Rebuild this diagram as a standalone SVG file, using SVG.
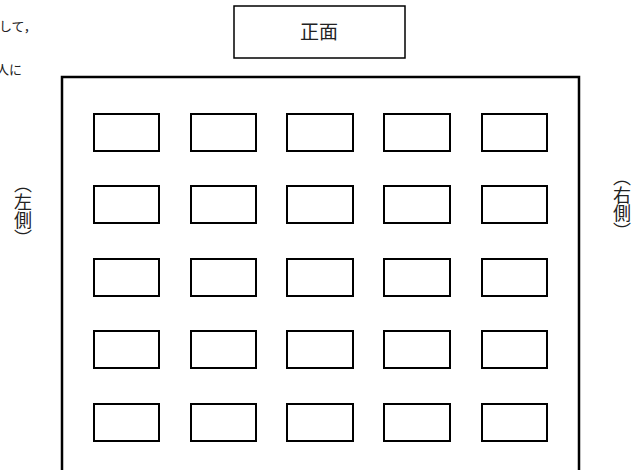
<svg xmlns="http://www.w3.org/2000/svg" width="643" height="470" viewBox="0 0 643 470">
<style>
  .t { font-family: "Noto Sans CJK JP", "Noto Sans", sans-serif; fill: #222; }
  .desk { fill: none; stroke: #000; stroke-width: 2; }
  .v { writing-mode: vertical-rl; font-size: 18px; }
</style>
<rect width="643" height="470" fill="#fff"/>
<g id="note">
  <text class="t" x="-1" y="31" font-size="13">して，</text>
  <text class="t" x="-4" y="74" font-size="13">人に</text>
</g>
<g id="front">
  <rect x="234" y="6" width="171" height="52" fill="none" stroke="#000" stroke-width="1.5"/>
  <text class="t" x="319" y="39" font-size="19" text-anchor="middle">正面</text>
</g>
<g id="room">
  <path d="M62 472 V77 H579 V472" fill="none" stroke="#000" stroke-width="2.5"/>
</g>
<g id="left-side">
  <text class="t v" x="23" y="175">（左側）</text>
</g>
<g id="right-side">
  <text class="t v" x="622" y="168">（右側）</text>
</g>
<g id="desks">
  <g id="r1">
    <rect class="desk" x="94" y="114" width="65" height="37"/>
    <rect class="desk" x="191" y="114" width="65" height="37"/>
    <rect class="desk" x="287" y="114" width="66" height="37"/>
    <rect class="desk" x="384" y="114" width="66" height="37"/>
    <rect class="desk" x="482" y="114" width="65" height="37"/>
  </g>
  <g id="r2">
    <rect class="desk" x="94" y="186" width="65" height="37"/>
    <rect class="desk" x="191" y="186" width="65" height="37"/>
    <rect class="desk" x="287" y="186" width="66" height="37"/>
    <rect class="desk" x="384" y="186" width="66" height="37"/>
    <rect class="desk" x="482" y="186" width="65" height="37"/>
  </g>
  <g id="r3">
    <rect class="desk" x="94" y="259" width="65" height="37"/>
    <rect class="desk" x="191" y="259" width="65" height="37"/>
    <rect class="desk" x="287" y="259" width="66" height="37"/>
    <rect class="desk" x="384" y="259" width="66" height="37"/>
    <rect class="desk" x="482" y="259" width="65" height="37"/>
  </g>
  <g id="r4">
    <rect class="desk" x="94" y="331" width="65" height="37"/>
    <rect class="desk" x="191" y="331" width="65" height="37"/>
    <rect class="desk" x="287" y="331" width="66" height="37"/>
    <rect class="desk" x="384" y="331" width="66" height="37"/>
    <rect class="desk" x="482" y="331" width="65" height="37"/>
  </g>
  <g id="r5">
    <rect class="desk" x="94" y="404" width="65" height="37"/>
    <rect class="desk" x="191" y="404" width="65" height="37"/>
    <rect class="desk" x="287" y="404" width="66" height="37"/>
    <rect class="desk" x="384" y="404" width="66" height="37"/>
    <rect class="desk" x="482" y="404" width="65" height="37"/>
  </g>
</g>
</svg>
